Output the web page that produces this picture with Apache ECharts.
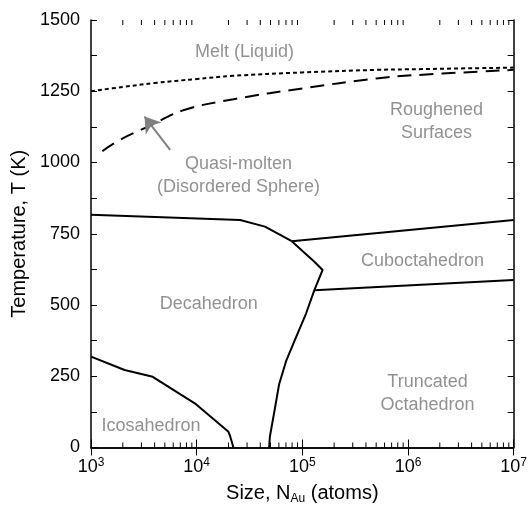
<!DOCTYPE html>
<html>
<head>
<meta charset="utf-8">
<script src="https://cdn.jsdelivr.net/npm/echarts@6/dist/echarts.min.js"></script>
<style>
  html, body { margin: 0; padding: 0; background: #fff; }
  #chart { width: 530px; height: 515px; }
</style>
</head>
<body>
<div id="chart"></div>
<script>
// Phase boundaries of Au nanoparticles: size N (atoms) vs temperature T (K)
const meltBoundary = [[1000, 1250], [2000, 1265], [4000, 1279], [10000, 1293], [22000, 1304],
  [100000, 1316], [500000, 1325], [1000000, 1327], [10000000, 1333]];
const quasiMoltenBoundary = [[1280, 1040], [2000, 1085], [3470, 1126], [7600, 1184], [22300, 1222],
  [100000, 1260], [500000, 1295], [1000000, 1305], [10000000, 1325]];
const decahedronTop = [[1000, 817], [25800, 798], [44300, 775], [79400, 724]];
const cuboTop = [[79400, 724], [10000000, 798]];
const decaRightBoundary = [[79400, 724], [130000, 652], [155600, 623], [130000, 552],
  [108700, 471], [84500, 375], [70500, 305], [60300, 222], [54900, 135], [49300, 38], [48500, 0]];
const cuboBottom = [[130000, 552], [10000000, 588]];
const icosaBoundary = [[1000, 319], [2080, 272], [3840, 248], [9600, 155], [20000, 55],
  [20800, 38], [22300, 0]];

// region names: [N, T, text]
const regionLabels = [
  [28300, 1388, 'Melt (Liquid)'],
  [1860000, 1142, 'Roughened\nSurfaces'],
  [24900, 956, 'Quasi-molten\n(Disordered Sphere)'],
  [1374000, 654, 'Cuboctahedron'],
  [13000, 503, 'Decahedron'],
  [1530000, 191, 'Truncated\nOctahedron'],
  [3690, 75, 'Icosahedron']
];
// pointer from the quasi-molten label to its boundary: [tail, head]
const quasiArrow = [[5610, 1044], [3210, 1161]];

// log-axis minor ticks (2..9 within each decade)
const decades = [1000, 10000, 100000, 1000000];
const minorMultipliers = [2, 3, 4, 5, 6, 7, 8, 9];
const xMinMax = [1000, 10000000];
const yMinMax = [0, 1500];

const minorTickValues = [];
decades.forEach(d => minorMultipliers.forEach(m => minorTickValues.push([d * m, 0])));

const FONT = 'Liberation Sans, Arial, Helvetica, sans-serif';
const LABEL_GRAY = '#767676';

const chart = echarts.init(document.getElementById('chart'), null, { renderer: 'canvas' });

function boundary(data, type, smooth) {
  return {
    type: 'line', data: data, symbol: 'none', silent: true, animation: false,
    smooth: smooth || false,
    lineStyle: { color: '#000', width: 2, type: type || 'solid' },
    z: 3
  };
}

const option = {
  backgroundColor: '#fff',
  animation: false,
  grid: { left: 91, right: 12, top: 20, bottom: 67.5 },
  xAxis: [{
    type: 'log', logBase: 10, min: xMinMax[0], max: xMinMax[1], interval: 1,
    position: 'bottom',
    name: '{a|Size, N}{sub|Au}{a| (atoms)}',
    nameLocation: 'middle', nameGap: 35,
    nameTextStyle: {
      rich: {
        a: { fontFamily: FONT, fontSize: 20, color: '#000' },
        sub: { fontFamily: FONT, fontSize: 12, color: '#000', padding: [10, 0, 0, 0] }
      }
    },
    axisLine: { show: true, lineStyle: { color: '#000', width: 1.5 } },
    axisTick: { show: true, inside: true, length: 8, lineStyle: { color: '#000', width: 1 } },
    splitLine: { show: false },
    axisLabel: {
      margin: 9,
      formatter: v => '{b|10}{s|' + Math.round(Math.log10(v)) + '}',
      rich: {
        b: { fontFamily: FONT, fontSize: 18, color: '#000' },
        s: { fontFamily: FONT, fontSize: 12, color: '#000', padding: [0, 0, 10, 0] }
      }
    }
  }, {
    type: 'log', logBase: 10, min: xMinMax[0], max: xMinMax[1], interval: 1,
    position: 'top',
    axisLine: { show: true, lineStyle: { color: '#000', width: 1.5 } },
    axisTick: { show: true, inside: true, length: 8, lineStyle: { color: '#000', width: 1 } },
    axisLabel: { show: false },
    splitLine: { show: false }
  }],
  yAxis: [{
    type: 'value', min: yMinMax[0], max: yMinMax[1], interval: 125,
    position: 'left',
    name: 'Temperature, T (K)', nameLocation: 'middle', nameGap: 51,
    nameTextStyle: { fontFamily: FONT, fontSize: 20, color: '#000' },
    axisLine: { show: true, lineStyle: { color: '#000', width: 1.5 } },
    axisTick: { show: true, inside: true, length: 6, lineStyle: { color: '#000', width: 1 } },
    splitLine: { show: false },
    axisLabel: {
      margin: 11, fontFamily: FONT, fontSize: 18, color: '#000',
      formatter: v => (v % 250 === 0 ? String(v) : '')
    }
  }, {
    type: 'value', min: yMinMax[0], max: yMinMax[1], interval: 125,
    position: 'right',
    axisLine: { show: true, lineStyle: { color: '#000', width: 1.5 } },
    axisTick: { show: true, inside: true, length: 6, lineStyle: { color: '#000', width: 1 } },
    axisLabel: { show: false },
    splitLine: { show: false }
  }],
  series: [
    boundary(meltBoundary, [4, 3], 0.4),
    boundary(quasiMoltenBoundary, [14, 8], 0.4),
    boundary(decahedronTop),
    boundary(cuboTop),
    boundary(decaRightBoundary),
    boundary(cuboBottom),
    boundary(icosaBoundary),
    {
      // minor ticks of the log axis, bottom and top edges
      type: 'custom', silent: true, animation: false, clip: false, z: 4,
      data: minorTickValues,
      encode: { x: 0, y: 1 },
      renderItem: function (params, api) {
        const v = api.value(0);
        const b = api.coord([v, yMinMax[0]]);
        const t = api.coord([v, yMinMax[1]]);
        return {
          type: 'group',
          children: [
            { type: 'line', shape: { x1: b[0], y1: b[1], x2: b[0], y2: b[1] - 5 },
              style: { stroke: '#000', lineWidth: 1 } },
            { type: 'line', shape: { x1: t[0], y1: t[1], x2: t[0], y2: t[1] + 5 },
              style: { stroke: '#000', lineWidth: 1 } }
          ]
        };
      }
    },
    {
      type: 'lines', coordinateSystem: 'cartesian2d', silent: true, animation: false, z: 5,
      data: [{ coords: quasiArrow }],
      symbol: ['none', 'arrow'], symbolSize: [11, 15],
      lineStyle: { color: '#808080', width: 2, opacity: 1 }
    },
    {
      type: 'scatter', silent: true, animation: false, z: 6,
      data: regionLabels,
      symbolSize: 1,
      itemStyle: { color: 'transparent' },
      label: {
        show: true, position: 'inside',
        formatter: p => p.data[2],
        fontFamily: FONT, fontSize: 18, lineHeight: 23, color: LABEL_GRAY, align: 'center'
      }
    }
  ]
};

chart.setOption(option);
</script>
</body>
</html>
